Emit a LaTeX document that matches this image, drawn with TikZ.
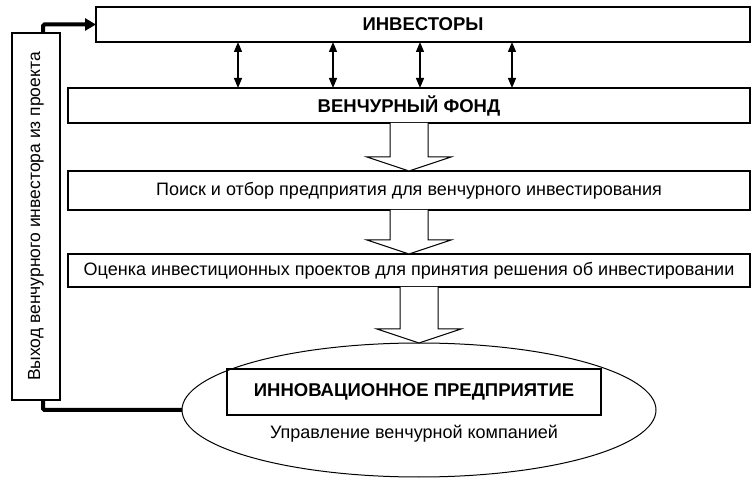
\documentclass[tikz,border=0pt]{standalone}
\usepackage{fontspec}
\setmainfont{Liberation Sans}
\usetikzlibrary{arrows.meta,calc,shapes.geometric}

\tikzset{
	stagebox/.style={draw, rectangle, line width=1.2pt, inner sep=0pt, outer sep=0pt,
		font=\fontsize{18}{20}\selectfont},
	titlebox/.style={stagebox, font=\fontsize{18.5}{20}\selectfont\bfseries},
	linkarrow/.style={line width=1.3pt, {Triangle[width=8pt,length=10pt]}-{Triangle[width=8pt,length=10pt]}},
	exitline/.style={line width=4pt, rounded corners=1.5pt}
}

% hollow block arrow from #1 down to #2
\newcommand{\hollowarrow}[2]{%
	\draw[line width=1pt, fill=white]
		($(#1)+(-19,0)$) -- ($(#2)+(-19,-14)$) -- ($(#2)+(-42,-14)$) -- (#2) --
		($(#2)+(42,-14)$) -- ($(#2)+(19,-14)$) -- ($(#1)+(19,0)$);
}

\begin{document}
\begin{tikzpicture}[x=1pt,y=-1pt]
\useasboundingbox (0,0) rectangle (756,481);

% Stages
\node[titlebox, minimum width=654pt, minimum height=35pt] (inv) at (423,24.5) {ИНВЕСТОРЫ};
\node[titlebox, minimum width=682pt, minimum height=35pt] (fund) at (409,105.5) {ВЕНЧУРНЫЙ ФОНД};
\node[stagebox, minimum width=682pt, minimum height=39pt] (search) at (409,190.5)
	{Поиск и отбор предприятия для венчурного инвестирования};
\node[stagebox, minimum width=682pt, minimum height=33pt] (eval) at (409,270.5)
	{Оценка инвестиционных проектов для принятия решения об инвестировании};

% Innovative enterprise
\node[draw, ellipse, line width=1pt, inner sep=0pt, outer sep=0pt,
	minimum width=474pt, minimum height=134pt] (ent) at (419,410) {};
\node[titlebox, minimum width=374pt, minimum height=46pt] (firm) at (414,392)
	{ИННОВАЦИОННОЕ ПРЕДПРИЯТИЕ};
\node[font=\fontsize{18}{20}\selectfont] (mgmt) at (414,434) {Управление венчурной компанией};

% Exit
\node[stagebox, rotate=90, minimum width=367pt, minimum height=48pt,
	font=\fontsize{17.5}{20}\selectfont] (exit) at (36,216.5)
	{Выход венчурного инвестора из проекта};

% Investors <-> fund
\foreach \x in {238,333,420,512}
{
	\draw[linkarrow] (\x,0 |- inv.south) -- (\x,0 |- fund.north);
}

% Flow
\hollowarrow{fund.south}{search.north}
\hollowarrow{search.south}{eval.north}
\hollowarrow{eval.south -| ent.north}{ent.north}

% Exit loop
\draw[exitline, -{Triangle[width=12pt,length=11pt]}] ([xshift=7pt]exit.east) |- (inv.west);
\draw[exitline] ([xshift=7pt]exit.west) |- (ent.west);

\end{tikzpicture}
\end{document}
